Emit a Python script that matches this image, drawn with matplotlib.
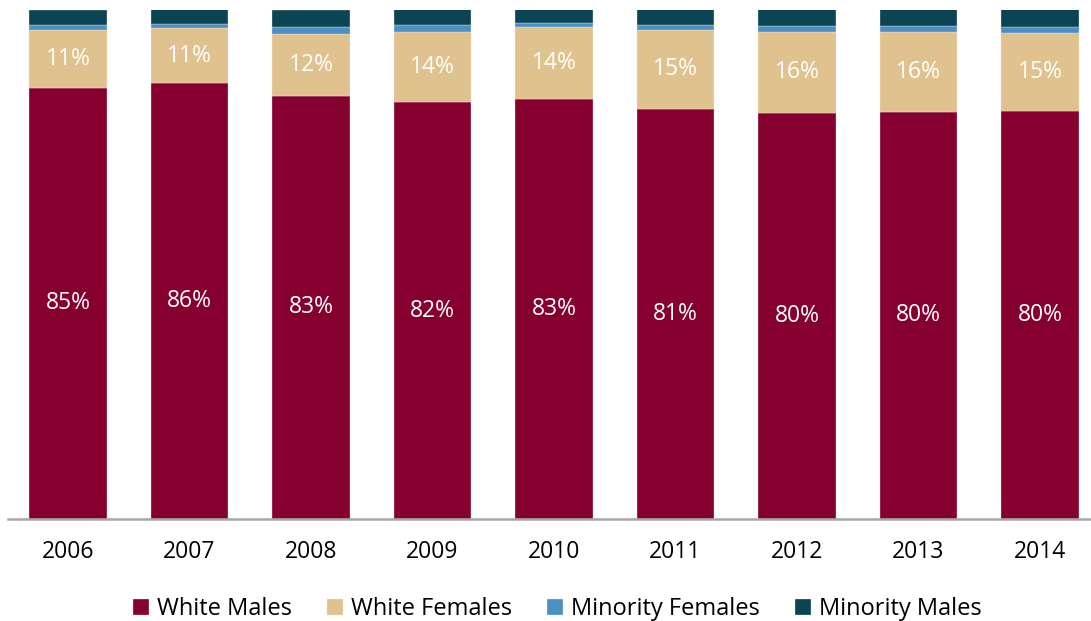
import matplotlib
matplotlib.use('Agg')
import matplotlib.pyplot as plt
import numpy as np

years = ['2006', '2007', '2008', '2009', '2010', '2011', '2012', '2013', '2014']
white_males = [84.7, 85.7, 83.2, 81.9, 82.5, 80.6, 79.8, 80.0, 80.2]
white_females = [11.3, 10.7, 12.0, 13.8, 14.1, 15.5, 15.9, 15.7, 15.3]
minority_females = [1.0, 0.9, 1.4, 1.4, 0.8, 1.0, 1.1, 1.2, 1.1]
minority_males = [3.0, 2.8, 3.4, 3.0, 2.7, 3.0, 3.3, 3.2, 3.6]
wm_labels = ['85%', '86%', '83%', '82%', '83%', '81%', '80%', '80%', '80%']
wf_labels = ['11%', '11%', '12%', '14%', '14%', '15%', '16%', '16%', '15%']

plt.rcParams['font.family'] = ['Open Sans', 'DejaVu Sans']

fig = plt.figure(figsize=(10.91, 6.21), dpi=100)
ax = fig.add_axes([8 / 1091, 102 / 621, 1083 / 1091, 509 / 621])

x = np.arange(len(years))
w = 0.64
series = [
    ('White Males', white_males, '#86002F'),
    ('White Females', white_females, '#DFC28D'),
    ('Minority Females', minority_females, '#4A90C4'),
    ('Minority Males', minority_males, '#0B4452'),
]
bottom = np.zeros(len(years))
handles = []
for name, vals, col in series:
    vals = np.array(vals)
    b = ax.bar(x, vals, w, bottom=bottom, color=col, edgecolor='#F2E6E9',
               linewidth=0.25, label=name)
    handles.append(b)
    if name == 'White Males':
        for xi, bi, vi, lab in zip(x, bottom, vals, wm_labels):
            ax.text(xi, bi + vi / 2, lab, ha='center', va='center',
                    color='white', fontsize=16.5)
    elif name == 'White Females':
        for xi, bi, vi, lab in zip(x, bottom, vals, wf_labels):
            ax.text(xi, bi + vi / 2, lab, ha='center', va='center',
                    color='white', fontsize=16.5)
    bottom = bottom + vals

ax.set_xlim(-0.494, 8.42)
ax.set_ylim(0, 100)
ax.set_xticks(x)
ax.set_xticklabels(years, fontsize=16.5)
ax.tick_params(axis='x', length=0, pad=15)
ax.set_yticks([])
for sp in ['left', 'right', 'top']:
    ax.spines[sp].set_visible(False)
ax.spines['bottom'].set_color('#A6A6A6')
ax.spines['bottom'].set_linewidth(1.8)

fig.legend(handles=handles, loc='lower center', bbox_to_anchor=(0.511, -0.035),
           ncol=4, frameon=False, fontsize=17, handlelength=0.65,
           handleheight=0.65, handletextpad=0.35, columnspacing=1.5)

fig.savefig('out.png', dpi=100)
